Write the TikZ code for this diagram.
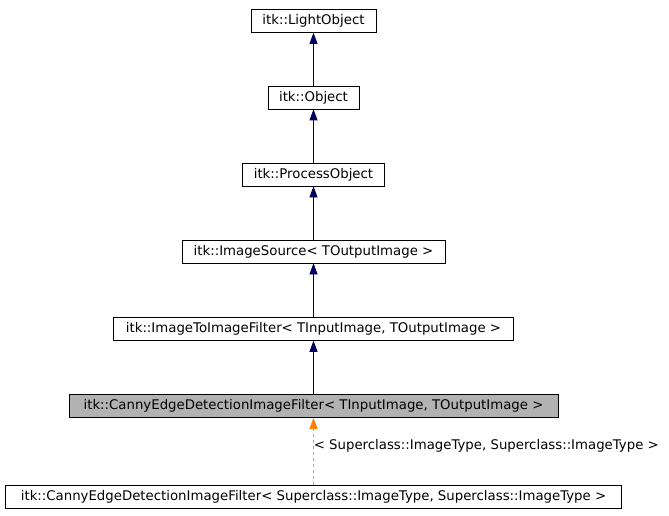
\documentclass[tikz,border=0pt]{standalone}
\usepackage{fontspec}
\setmainfont{DejaVu Sans}
\usetikzlibrary{arrows.meta}
\begin{document}
\begin{tikzpicture}[x=1pt,y=1pt,font=\fontsize{13.3}{15}\selectfont,
  cls/.style={draw=black,line width=0.7pt,fill=white,inner sep=0pt,minimum height=23pt},
  inh/.style={draw=black!70!blue,line width=0.7pt,-{Triangle[width=8pt,length=11pt,fill=black!30!blue!60!black]}},
  tmpl/.style={draw=gray!70,dashed,line width=0.7pt,-{Triangle[width=8pt,length=11pt,fill=orange,color=orange]}}]
\useasboundingbox (0,0) rectangle (669,515);
\node[cls,minimum width=125pt] (a) at (313.5,494) {itk::LightObject};
\node[cls,minimum width=91pt] (b) at (313.5,417.5) {itk::Object};
\node[cls,minimum width=142pt] (c) at (313.5,340.5) {itk::ProcessObject};
\node[cls,minimum width=263pt] (d) at (313.5,263.5) {itk::ImageSource< TOutputImage >};
\node[cls,minimum width=400pt] (e) at (313.5,186) {itk::ImageToImageFilter< TInputImage, TOutputImage >};
\node[cls,fill=black!30,minimum width=489pt] (f) at (313.5,109) {itk::CannyEdgeDetectionImageFilter< TInputImage, TOutputImage >};
\node[cls,minimum width=616pt] (g) at (313.5,18) {itk::CannyEdgeDetectionImageFilter< Superclass::ImageType, Superclass::ImageType >};
\draw[inh] (b) -- (a);
\draw[inh] (c) -- (b);
\draw[inh] (d) -- (c);
\draw[inh] (e) -- (d);
\draw[inh] (f) -- (e);
\draw[tmpl] (g) -- (f) node[pos=0.58,right=-1pt,inner sep=1pt] (lbl) {< Superclass::ImageType, Superclass::ImageType >};
\end{tikzpicture}
\end{document}
